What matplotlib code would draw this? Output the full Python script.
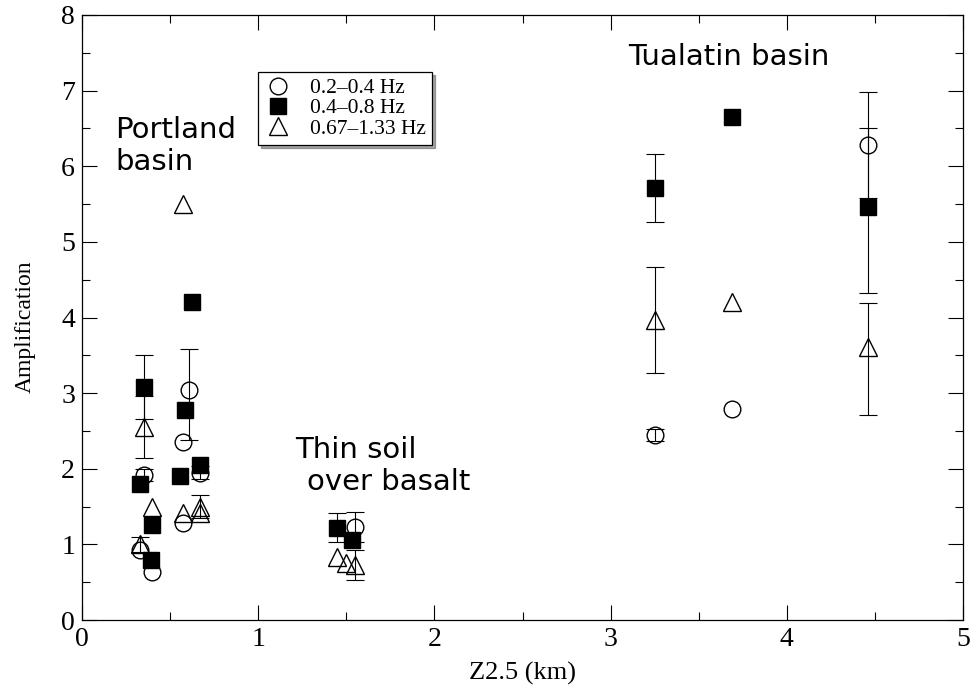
import matplotlib
matplotlib.use("Agg")
import matplotlib.pyplot as plt
import numpy as np
from matplotlib.ticker import MultipleLocator

# 0.2-0.4 Hz (open circles)
circ_x = [0.35, 0.33, 0.40, 0.61, 0.575, 0.575, 0.67, 1.55, 3.25, 3.69, 4.46]
circ_y = [1.92, 0.93, 0.63, 3.04, 2.35, 1.28, 1.95, 1.23, 2.45, 2.79, 6.28]
circ_lo = [0.08, 0.0, 0.0, 0.66, 0.0, 0.0, 0.08, 0.2, 0.08, 0.0, 0.7]
circ_hi = [0.08, 0.0, 0.0, 0.54, 0.0, 0.0, 0.08, 0.2, 0.08, 0.0, 0.7]

# 0.4-0.8 Hz (filled squares)
sq_x = [0.35, 0.33, 0.40, 0.39, 0.585, 0.625, 0.556, 0.67, 1.45, 1.53, 3.25, 3.69, 4.46]
sq_y = [3.08, 1.80, 1.26, 0.80, 2.78, 4.20, 1.90, 2.05, 1.22, 1.06, 5.71, 6.65, 5.46]
sq_lo = [0.42, 0.0, 0.0, 0.0, 0.0, 0.0, 0.0, 0.0, 0.19, 0.0, 0.45, 0.0, 1.14]
sq_hi = [0.42, 0.0, 0.0, 0.0, 0.0, 0.0, 0.0, 0.0, 0.19, 0.0, 0.45, 0.0, 1.04]

# 0.67-1.33 Hz (open triangles)
tri_x = [0.35, 0.40, 0.33, 0.575, 0.575, 0.67, 0.67, 1.45, 1.50, 1.55, 3.25, 3.69, 4.46]
tri_y = [2.55, 1.50, 1.00, 5.50, 1.41, 1.50, 1.42, 0.83, 0.75, 0.73, 3.97, 4.20, 3.61]
tri_lo = [0.41, 0.0, 0.1, 0.0, 0.0, 0.15, 0.0, 0.0, 0.0, 0.2, 0.7, 0.0, 0.9]
tri_hi = [0.41, 0.0, 0.1, 0.0, 0.0, 0.15, 0.0, 0.0, 0.0, 0.2, 0.7, 0.0, 0.58]

labels = ["0.2\u20130.4 Hz", "0.4\u20130.8 Hz", "0.67\u20131.33 Hz"]

serif = ["Liberation Serif", "DejaVu Serif"]
sans = ["DejaVu Sans"]

fig = plt.figure(figsize=(9.79, 6.9), dpi=100)
ax = fig.add_axes([82/979, 1-620/690, 881/979, 605/690])

ekw = dict(ecolor="black", elinewidth=0.8, capsize=6.5, capthick=0.8, linestyle="none", zorder=2)

def plot_err(x, y, lo, hi):
    x, y, lo, hi = map(np.asarray, (x, y, lo, hi))
    m = (lo > 0) | (hi > 0)
    ax.errorbar(x[m], y[m], yerr=[lo[m], hi[m]], fmt="none", **ekw)

plot_err(circ_x, circ_y, circ_lo, circ_hi)
plot_err(sq_x, sq_y, sq_lo, sq_hi)
plot_err(tri_x, tri_y, tri_lo, tri_hi)

h1, = ax.plot(circ_x, circ_y, "o", ms=12, mfc="none", mec="black", mew=1.0, ls="none", zorder=3)
h2, = ax.plot(sq_x, sq_y, "s", ms=12, mfc="black", mec="black", mew=1.0, ls="none", zorder=3)
h3, = ax.plot(tri_x, tri_y, "^", ms=12.5, mfc="none", mec="black", mew=1.0, ls="none", zorder=3)

ax.set_xlim(0, 5)
ax.set_ylim(0, 8)
ax.xaxis.set_major_locator(MultipleLocator(1))
ax.xaxis.set_minor_locator(MultipleLocator(0.5))
ax.yaxis.set_major_locator(MultipleLocator(1))
ax.yaxis.set_minor_locator(MultipleLocator(0.5))
ax.tick_params(which="both", direction="in", top=True, right=True, width=0.8)
ax.tick_params(which="major", length=11, labelsize=20, pad=5, labelfontfamily="Liberation Serif")
ax.tick_params(which="minor", length=5.5)
for s in ax.spines.values():
    s.set_linewidth(0.9)

ax.set_xlabel("Z2.5 (km)", family=serif, fontsize=19, labelpad=7)
ax.set_ylabel("Amplification", family=serif, fontsize=17)
ax.yaxis.set_label_coords(-0.052, 0.485)

ax.text(0.187, 6.38, "Portland", family=sans, fontsize=21, va="baseline")
ax.text(0.187, 5.95, "basin", family=sans, fontsize=21, va="baseline")
ax.text(1.21, 2.14, "Thin soil", family=sans, fontsize=21, va="baseline")
ax.text(1.277, 1.72, "over basalt", family=sans, fontsize=21, va="baseline")
ax.text(3.10, 7.34, "Tualatin basin", family=sans, fontsize=21, va="baseline")

leg = ax.legend([h1, h2, h3], labels, loc="upper left", bbox_to_anchor=(0.2, 0.906),
                prop={"family": serif, "size": 15.5}, frameon=True, fancybox=False,
                shadow=True, labelspacing=0.0, handletextpad=0.9, handlelength=1.2,
                borderpad=0.3, borderaxespad=0)
leg.get_frame().set_edgecolor("black")
leg.get_frame().set_linewidth(0.9)

fig.savefig("out.png", dpi=100)
